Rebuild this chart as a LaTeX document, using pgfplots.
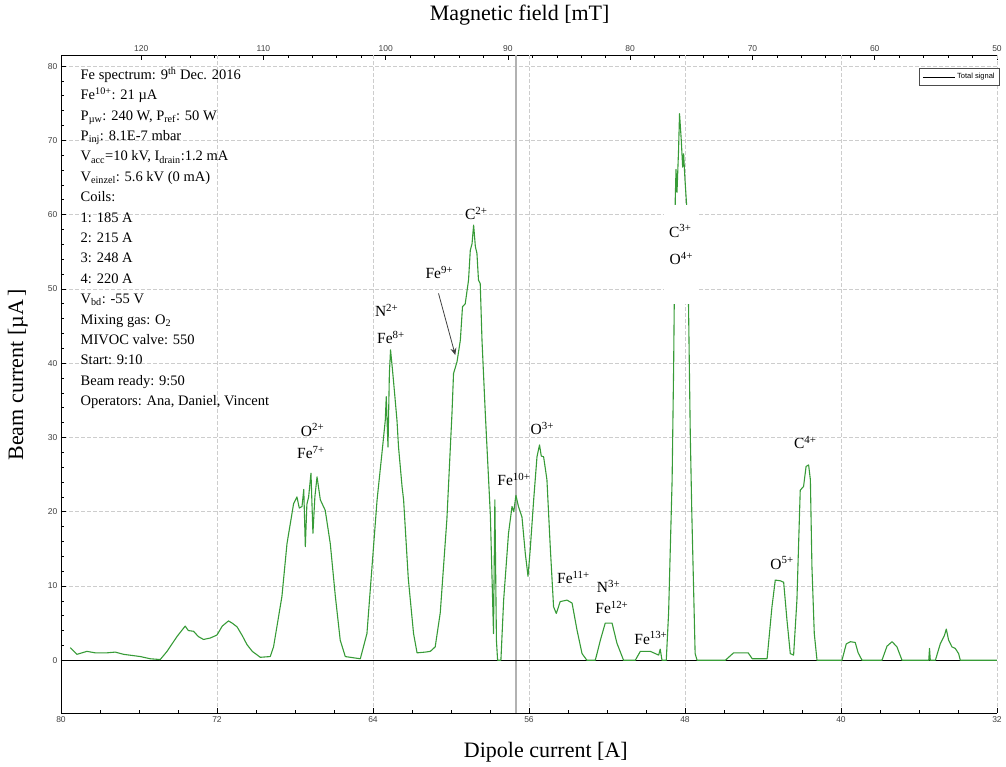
\documentclass[border=0pt]{standalone}
\usepackage{fontspec}
\setmainfont{Liberation Serif}
\newfontfamily\tickfont{Liberation Sans}
\usepackage{pgfplots}
\usepackage{pgfplotstable}
\pgfplotsset{compat=1.18}
\usetikzlibrary{arrows.meta}

\definecolor{sig}{RGB}{55,155,55}
\definecolor{gridc}{RGB}{205,205,205}

% dipole current [A] vs beam current [uA]
\pgfplotstableread{
I y
79.52 1.7
79.18 0.8
78.67 1.2
78.24 1.0
77.64 1.0
77.22 1.1
76.79 0.8
75.93 0.5
75.42 0.2
74.91 0.1
74.56 1.2
74.05 3.2
73.63 4.6
73.47 4.0
73.20 3.9
72.96 3.2
72.69 2.8
72.34 3.0
72.00 3.4
71.73 4.6
71.41 5.3
71.22 5.0
70.97 4.5
70.70 3.3
70.46 2.1
70.19 1.2
69.78 0.4
69.27 0.5
69.10 1.8
68.84 5.9
68.67 8.6
68.41 15.7
68.07 21.1
67.90 22.0
67.78 20.5
67.64 20.7
67.55 23.0
67.47 15.3
67.39 21.0
67.30 22.0
67.18 25.2
67.08 17.1
66.98 22.0
66.87 24.7
66.70 21.6
66.45 20.2
66.19 15.7
65.93 8.6
65.68 2.7
65.42 0.5
64.65 0.2
64.31 3.6
64.05 12.6
63.79 21.6
63.54 27.9
63.37 32.3
63.32 35.5
63.23 28.7
63.16 38.6
63.10 41.8
63.00 39.1
62.89 35.9
62.77 32.3
62.69 28.7
62.51 23.4
62.43 21.6
62.19 11.0
61.92 3.6
61.74 1.0
61.32 1.1
61.06 1.2
60.81 1.8
60.55 6.4
60.21 19.0
60.04 28.3
59.95 33.2
59.87 38.6
59.69 40.2
59.52 43.1
59.41 47.6
59.27 48.0
59.10 51.2
59.01 55.2
58.92 56.1
58.84 58.6
58.75 55.7
58.67 54.8
58.59 51.2
58.50 50.7
58.41 43.1
58.24 33.2
57.98 19.5
57.82 3.6
57.75 21.6
57.67 2.7
57.61 0.0
57.44 0.0
57.30 8.1
57.05 17.1
56.87 20.7
56.78 20.0
56.67 22.2
56.54 20.7
56.36 19.3
56.19 14.4
56.05 11.3
55.94 14.8
55.76 21.6
55.59 27.4
55.46 29.0
55.37 27.5
55.25 27.4
55.08 24.3
54.91 15.3
54.74 7.2
54.60 6.3
54.40 7.9
54.05 8.1
53.79 7.7
53.54 4.1
53.28 0.9
53.03 0.0
52.60 0.0
52.34 2.7
52.09 5.0
51.74 5.0
51.49 2.3
51.15 0.0
50.55 0.0
50.29 1.2
49.78 1.2
49.35 0.7
49.27 1.5
49.18 0.0
48.96 0.0
48.84 6.4
48.66 24.3
48.58 40.0
48.50 62.0
48.46 66.1
48.41 63.0
48.33 68.7
48.28 73.6
48.19 70.0
48.12 66.4
48.07 68.2
48.00 64.7
47.90 60.6
47.82 48.0
47.73 30.6
47.65 19.8
47.48 0.9
47.38 0.0
45.93 0.0
45.51 1.0
44.76 1.0
44.55 0.2
43.79 0.2
43.54 7.2
43.37 10.8
43.11 10.7
42.94 10.5
42.77 5.4
42.60 0.9
42.43 0.7
42.26 8.1
42.09 22.9
41.92 23.4
41.79 26.1
41.66 26.3
41.57 24.3
41.49 12.6
41.37 3.6
41.23 0.0
39.95 0.0
39.73 2.2
39.52 2.5
39.27 2.4
39.12 1.0
38.92 0.0
37.90 0.0
37.64 1.9
37.38 2.5
37.13 1.8
36.87 0.0
35.50 0.0
35.46 1.6
35.42 0.0
35.16 0.0
34.91 2.2
34.70 3.3
34.60 4.2
34.48 2.7
34.31 1.8
34.14 1.6
33.97 0.9
33.88 0.0
32.00 0.0
}\spectrum

\begin{document}
\begin{tikzpicture}
\path[use as bounding box] (-61pt,-54pt) rectangle (945pt,713pt);

% top axis: magnetic field
\begin{axis}[
    at={(0,0)}, anchor=south west,
    width=936pt, height=658pt, scale only axis,
    x dir=reverse, xmin=50, xmax=126.56, ymin=0, ymax=1,
    axis x line*=top, axis y line=none,
    axis line style={-, black, line width=0.9pt},
    xtick={50,60,...,120}, minor x tick num=4,
    tick align=inside, major tick length=5pt, minor tick length=3pt,
    tick style={black, line width=0.7pt},
    ticklabel style={font=\tickfont\fontsize{8.5}{10}\selectfont, text=black!75},
    /pgf/number format/assume math mode=true,
    xlabel={Magnetic field [mT]},
    xlabel style={font=\fontsize{22}{26}\selectfont, at={(axis description cs:0.49,1.0608)}, anchor=center},
]
\addplot[draw=none] coordinates {(60,0.5)};
\end{axis}

% main axis: dipole current
\begin{axis}[
    at={(0,0)}, anchor=south west,
    width=936pt, height=658pt, scale only axis,
    x dir=reverse, xmin=32, xmax=80, ymin=-7.1, ymax=81.5,
    axis x line*=bottom, axis y line*=left,
    axis line style={-, black, line width=0.9pt},
    xtick={32,40,...,80}, minor x tick num=3,
    ytick={0,10,...,80}, minor y tick num=4,
    tick align=inside, major tick length=5pt, minor tick length=3pt,
    tick style={black, line width=0.7pt},
    grid=major, major grid style={gridc, dash pattern=on 4pt off 2pt, line width=0.6pt},
    ticklabel style={font=\tickfont\fontsize{8.5}{10}\selectfont, text=black!75},
    /pgf/number format/assume math mode=true,
    xlabel={Dipole current [A]},
    xlabel style={font=\fontsize{22}{26}\selectfont, at={(axis description cs:0.518,-0.0593)}, anchor=center},
    ylabel={Beam current [µA\,]},
    ylabel style={font=\fontsize{22}{26}\selectfont, at={(axis description cs:-0.046,0.514)}, anchor=center},
    legend style={at={(1.003,0.980)}, anchor=north east, draw=black!70, fill=white,
        font=\tickfont\fontsize{7.5}{9}\selectfont, inner xsep=3pt, inner ysep=3pt},
    legend image code/.code={\draw[#1] (0pt,0pt) -- (32pt,0pt);},
]
\draw[black!30, line width=2pt] (axis cs:56.67,-7.1) -- (axis cs:56.67,81.5);
\draw[black, line width=1.3pt] (axis cs:80,0) -- (axis cs:32,0);

\addplot[sig, line width=1.1pt, line join=round, forget plot] table[x=I, y=y] {\spectrum};
\addlegendimage{black, line width=0.6pt}
\addlegendentry{Total signal}

\node[anchor=north west, align=left, inner sep=0pt, font=\fontsize{14.5}{20.4}\selectfont]
  at (axis cs:79.0,79.9) {Fe spectrum: 9\textsuperscript{th} Dec. 2016\\
  Fe\textsuperscript{10+}: 21 µA\\
  P\textsubscript{µw}: 240 W, P\textsubscript{ref}: 50 W\\
  P\textsubscript{inj}: 8.1E-7 mbar\\
  V\textsubscript{acc}=10 kV, I\textsubscript{drain}:1.2 mA\\
  V\textsubscript{einzel}: 5.6 kV (0 mA)\\
  Coils:\\
  1: 185 A\\
  2: 215 A\\
  3: 248 A\\
  4: 220 A\\
  V\textsubscript{bd}: -55 V\\
  Mixing gas: O\textsubscript{2}\\
  MIVOC valve: 550\\
  Start: 9:10\\
  Beam ready: 9:50\\
  Operators: Ana, Daniel, Vincent};

\begin{scope}[every node/.style={font=\fontsize{15.5}{18}\selectfont, inner sep=1pt}]
\node at (axis cs:67.10,31.0) {O\textsuperscript{2+}};
\node at (axis cs:67.18,28.0) {Fe\textsuperscript{7+}};
\node at (axis cs:63.30,47.1) {N\textsuperscript{2+}};
\node at (axis cs:63.08,43.5) {Fe\textsuperscript{8+}};
\node at (axis cs:60.60,52.2) {Fe\textsuperscript{9+}};
\node at (axis cs:58.70,60.2) {C\textsuperscript{2+}};
\node at (axis cs:56.77,24.3) {Fe\textsuperscript{10+}};
\node at (axis cs:55.32,31.2) {O\textsuperscript{3+}};
\node at (axis cs:53.72,11.1) {Fe\textsuperscript{11+}};
\node at (axis cs:51.92,9.9) {N\textsuperscript{3+}};
\node at (axis cs:51.75,7.1) {Fe\textsuperscript{12+}};
\node at (axis cs:49.75,3.0) {Fe\textsuperscript{13+}};
\node at (axis cs:43.02,13.1) {O\textsuperscript{5+}};
\node at (axis cs:41.83,29.3) {C\textsuperscript{4+}};
\fill[white] (axis cs:49.06,48.0) rectangle (axis cs:47.37,61.3);
\node at (axis cs:48.24,57.8) {C\textsuperscript{3+}};
\node at (axis cs:48.19,54.1) {O\textsuperscript{4+}};
\end{scope}
\draw[-{Stealth[length=7pt,width=6pt]}, black!75, line width=0.8pt]
  (axis cs:60.64,49.4) -- (axis cs:59.78,41.1);
\end{axis}
\end{tikzpicture}
\end{document}
